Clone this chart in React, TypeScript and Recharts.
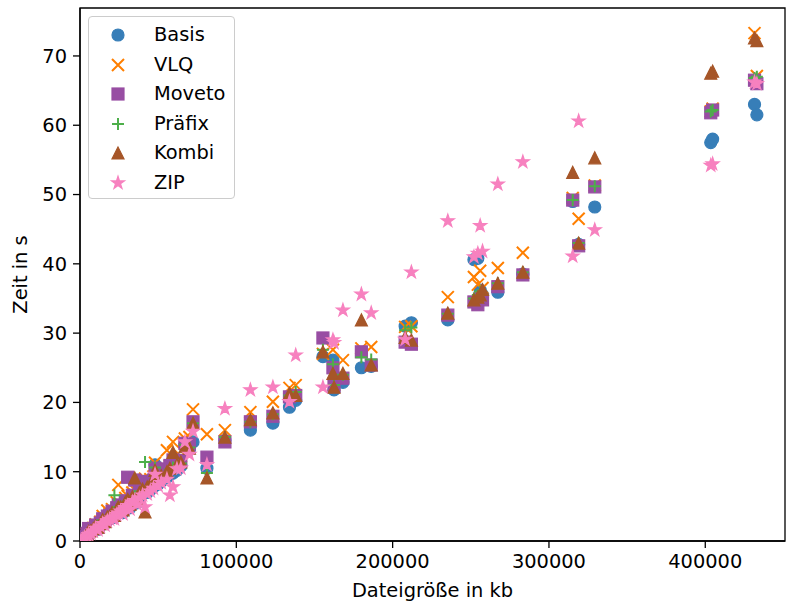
import { ReferenceArea, Scatter, ScatterChart, XAxis, YAxis } from 'recharts'

// Dateigröße in kb, je Datei ein Eintrag
const dateigroesse = [
  1500, 3000, 4500, 5500, 7000, 8500, 10000, 11500, 13000, 14500,
  16000, 17500, 19000, 20500, 22000, 23500, 24500, 26000, 27500, 29000,
  30500, 32000, 33500, 35000, 36500, 38000, 40000, 41600, 43000, 45000,
  47000, 48000, 50000, 52000, 55600, 57500, 59500, 62000, 64500, 67100,
  70000, 72300, 81200, 92700, 109000, 123400, 134000, 138000, 155400, 161800,
  162500, 168200, 180000, 186300, 208000, 212000, 235300, 252000, 254500, 256000,
  257500, 267300, 283300, 315200, 319000, 329300, 403500, 404700, 431500, 433000,
]

// Zeit in s pro Verfahren
const basis = [
  0.2, 0.5, 0.8, 1.0, 1.2, 1.5, 1.9, 1.7, 2.2, 2.6,
  2.5, 3.0, 3.2, 3.5, 3.4, 4.0, 4.2, 4.5, 4.1, 5.0,
  5.3, 4.8, 5.8, 6.0, 5.5, 6.4, 6.8, 8.0, 7.0, 7.4,
  7.8, 11.0, 8.2, 8.6, 9.2, 9.6, 9.8, 10.2, 10.8, 13.8,
  13.2, 14.3, 10.5, 14.5, 16.0, 17.0, 19.3, 20.3, 26.6, 26.1,
  21.8, 22.9, 25.0, 25.2, 31.0, 31.5, 31.9, 40.6, 40.8, 36.2,
  35.5, 35.9, 38.5, 49.0, 42.8, 48.2, 57.5, 58.0, 63.0, 61.5,
]
const vlq = [
  0.3, 0.6, 1.0, 1.3, 1.5, 1.9, 2.4, 2.2, 2.8, 3.6,
  3.1, 4.4, 3.9, 4.6, 4.0, 5.6, 8.1, 5.3, 4.8, 6.2,
  6.5, 5.6, 7.0, 7.4, 6.4, 7.6, 8.2, 9.0, 8.5, 8.9,
  9.3, 11.3, 9.8, 10.2, 13.1, 10.8, 14.3, 11.6, 12.2, 14.8,
  15.0, 19.0, 15.4, 16.0, 18.6, 20.1, 22.1, 22.5, 27.0, 27.6,
  22.5, 26.1, 27.8, 28.0, 30.9, 31.0, 35.2, 38.1, 37.0, 39.0,
  36.5, 39.4, 41.6, 49.5, 46.5, 51.3, 62.0, 62.4, 73.3, 67.1,
]
const moveto = [
  0.3, 0.6, 1.1, 1.8, 1.6, 1.8, 2.3, 2.0, 2.6, 3.2,
  2.9, 3.6, 3.7, 4.3, 3.8, 4.8, 5.2, 5.0, 4.6, 5.8,
  9.2, 5.4, 6.6, 8.8, 6.2, 7.2, 7.7, 8.6, 8.0, 8.4,
  8.8, 10.5, 9.3, 9.7, 10.4, 10.9, 11.7, 11.2, 11.6, 14.1,
  14.0, 17.2, 12.1, 14.3, 17.2, 18.0, 20.8, 21.0, 29.3, 25.0,
  22.3, 23.5, 27.3, 25.4, 28.7, 28.4, 32.6, 34.5, 34.1, 35.0,
  34.8, 36.7, 38.4, 49.2, 42.6, 51.1, 61.8, 62.2, 66.5, 66.0,
]
const praefix = [
  0.2, 0.5, 0.9, 1.1, 1.3, 1.6, 2.1, 1.9, 2.4, 3.0,
  2.7, 3.3, 3.5, 3.8, 6.6, 4.6, 4.9, 4.8, 4.4, 5.4,
  5.7, 5.1, 6.2, 6.5, 5.9, 6.8, 7.2, 11.4, 7.5, 7.9,
  8.3, 10.6, 8.8, 9.1, 9.8, 10.3, 10.6, 10.8, 11.2, 13.9,
  13.5, 17.0, 9.8, 15.0, 17.2, 18.3, 21.0, 21.5, 27.6, 25.5,
  22.5, 24.0, 26.5, 26.2, 30.4, 30.8, 32.8, 35.0, 35.5, 36.0,
  35.6, 37.2, 38.8, 49.2, 43.0, 51.2, 62.0, 62.2, 66.8, 67.0,
]
const kombi = [
  0.3, 0.6, 1.0, 1.4, 1.5, 1.8, 2.2, 2.0, 2.5, 3.1,
  2.8, 3.5, 3.6, 4.1, 3.7, 4.5, 4.9, 4.9, 4.5, 5.6,
  6.0, 5.3, 6.4, 9.1, 6.0, 7.0, 7.5, 4.2, 7.8, 8.2,
  8.6, 10.2, 9.0, 9.4, 10.0, 10.5, 12.8, 11.0, 11.4, 13.6,
  13.4, 17.0, 9.1, 15.0, 17.5, 18.5, 21.3, 21.0, 27.3, 24.2,
  22.2, 24.2, 31.9, 25.4, 29.4, 29.0, 32.9, 34.8, 35.2, 35.5,
  36.3, 37.2, 38.8, 53.2, 43.0, 55.3, 67.5, 67.8, 72.6, 72.2,
]
const zip = [
  0.2, 0.5, 0.7, 0.9, 1.1, 1.4, 1.8, 1.6, 2.1, 2.5,
  2.3, 2.9, 3.1, 3.3, 3.2, 3.8, 4.0, 4.3, 3.9, 4.8,
  5.1, 4.6, 5.6, 5.8, 5.3, 6.2, 6.6, 4.9, 6.8, 7.2,
  7.6, 9.6, 8.0, 8.4, 8.9, 6.6, 7.8, 10.4, 10.5, 14.3,
  12.5, 15.8, 11.0, 19.1, 21.8, 22.2, 20.1, 26.8, 22.2, 29.0,
  28.6, 33.3, 35.6, 32.9, 29.1, 38.8, 46.2, 41.0, 41.5, 45.5,
  41.8, 51.5, 54.7, 41.1, 60.6, 44.9, 54.2, 54.4, 66.2, 66.0,
]

const xTicks = [0, 100000, 200000, 300000, 400000]
const yTicks = [0, 10, 20, 30, 40, 50, 60, 70]

type Form = 'kreis' | 'x' | 'quadrat' | 'plus' | 'dreieck' | 'stern'

const reihen: { name: string; werte: number[]; farbe: string; form: Form }[] = [
  { name: 'Basis', werte: basis, farbe: '#377eb8', form: 'kreis' },
  { name: 'VLQ', werte: vlq, farbe: '#ff7f00', form: 'x' },
  { name: 'Moveto', werte: moveto, farbe: '#984ea3', form: 'quadrat' },
  { name: 'Präfix', werte: praefix, farbe: '#4daf4a', form: 'plus' },
  { name: 'Kombi', werte: kombi, farbe: '#a65628', form: 'dreieck' },
  { name: 'ZIP', werte: zip, farbe: '#f781bf', form: 'stern' },
]

const X_MAX = 451000
const Y_MAX = 76.92
const SCHRIFT = '"DejaVu Sans", sans-serif'
const GROESSE = 19.4

function sternPunkte(cx: number, cy: number, r: number) {
  const pts: string[] = []
  for (let i = 0; i < 10; i++) {
    const rr = i % 2 === 0 ? r : r * 0.382
    const a = -Math.PI / 2 + (i * Math.PI) / 5
    pts.push(`${cx + rr * Math.cos(a)},${cy + rr * Math.sin(a)}`)
  }
  return pts.join(' ')
}

function Markierung({ cx, cy, form, farbe }: { cx: number; cy: number; form: Form; farbe: string }) {
  const s = 6
  if (cx == null || cy == null) return null
  switch (form) {
    case 'kreis':
      return <circle cx={cx} cy={cy} r={s} fill={farbe} stroke={farbe} strokeWidth={1.2} />
    case 'x':
      return (
        <path
          d={`M${cx - s},${cy - s}L${cx + s},${cy + s}M${cx - s},${cy + s}L${cx + s},${cy - s}`}
          stroke={farbe}
          strokeWidth={2}
          fill="none"
        />
      )
    case 'quadrat':
      return <rect x={cx - s} y={cy - s} width={2 * s} height={2 * s} fill={farbe} stroke={farbe} strokeWidth={1.2} />
    case 'plus':
      return (
        <path
          d={`M${cx - s},${cy}L${cx + s},${cy}M${cx},${cy - s}L${cx},${cy + s}`}
          stroke={farbe}
          strokeWidth={2}
          fill="none"
        />
      )
    case 'dreieck':
      return (
        <polygon
          points={`${cx},${cy - s} ${cx - s},${cy + s} ${cx + s},${cy + s}`}
          fill={farbe}
          stroke={farbe}
          strokeWidth={1.2}
          strokeLinejoin="miter"
        />
      )
    case 'stern':
      return <polygon points={sternPunkte(cx, cy, s + 0.8)} fill={farbe} stroke={farbe} strokeWidth={1.2} />
  }
  return null
}

function Legende() {
  return (
    <div
      style={{
        position: 'absolute',
        left: 88,
        top: 16,
        width: 145,
        height: 181,
        border: '1px solid #cccccc',
        borderRadius: 4,
        background: 'rgba(255,255,255,0.8)',
        fontFamily: SCHRIFT,
        fontSize: GROESSE,
      }}
    >
      {reihen.map((r, i) => (
        <div key={r.name} style={{ position: 'absolute', left: 0, top: 3 + i * 29.6, height: 30, display: 'flex', alignItems: 'center' }}>
          <svg width={60} height={30} style={{ display: 'block' }}>
            <Markierung cx={29} cy={15} form={r.form} farbe={r.farbe} />
          </svg>
          <span style={{ marginLeft: 5, color: '#000', lineHeight: '30px' }}>{r.name}</span>
        </div>
      ))}
    </div>
  )
}

export default function App() {
  const tickStil = { fontSize: GROESSE, fill: '#000', fontFamily: SCHRIFT }
  return (
    <div style={{ position: 'absolute', left: 0, top: 0, width: 786, height: 603, background: '#fff' }}>
      <ScatterChart width={786} height={603} margin={{ top: 8, right: 1, left: 0, bottom: 0 }}>
        <XAxis
          type="number"
          dataKey="x"
          domain={[0, X_MAX]}
          ticks={xTicks}
          allowDataOverflow
          height={62}
          tick={tickStil}
          tickSize={7}
          tickMargin={6}
          stroke="#000"
          strokeWidth={1.3}
          label={() => (
            <text x={432.5} y={597} textAnchor="middle" fontSize={GROESSE} fontFamily={SCHRIFT} fill="#000">
              Dateigröße in kb
            </text>
          )}
        />
        <YAxis
          type="number"
          dataKey="y"
          domain={[0, Y_MAX]}
          ticks={yTicks}
          allowDataOverflow
          width={80}
          tick={tickStil}
          tickSize={7}
          tickMargin={6}
          stroke="#000"
          strokeWidth={1.3}
          label={() => (
            <text
              x={27}
              y={274.5}
              transform="rotate(-90 27 274.5)"
              textAnchor="middle"
              fontSize={GROESSE}
              fontFamily={SCHRIFT}
              fill="#000"
            >
              Zeit in s
            </text>
          )}
        />
        {reihen.map((r) => (
          <Scatter
            key={r.name}
            name={r.name}
            data={dateigroesse.map((x, i) => ({ x, y: r.werte[i] }))}
            isAnimationActive={false}
            shape={(p: any) => <Markierung cx={p.cx} cy={p.cy} form={r.form} farbe={r.farbe} />}
          />
        ))}
        <ReferenceArea x1={0} x2={X_MAX} y1={0} y2={Y_MAX} fill="none" stroke="#000" strokeWidth={1.3} ifOverflow="visible" />
      </ScatterChart>
      <Legende />
    </div>
  )
}
